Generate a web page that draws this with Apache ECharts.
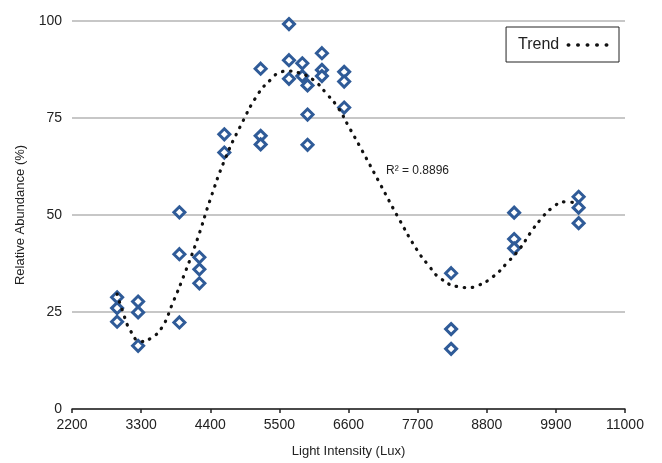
<!DOCTYPE html>
<html>
<head>
<meta charset="utf-8">
<script src="https://cdn.jsdelivr.net/npm/echarts@6/dist/echarts.min.js"></script>
<style>
  html, body { margin: 0; padding: 0; background: #fff; }
  #main { width: 662px; height: 463px; }
</style>
</head>
<body>
<div id="main"></div>
<script>
// measured samples: light intensity (Lux) and relative abundance (%)
var pointX = [2918, 2918, 2918, 3252, 3252, 3252, 3909, 3909, 3909, 4227, 4227, 4227,
  4624, 4624, 5202, 5202, 5202, 5653, 5653, 5653, 5865, 5865, 5948, 5948, 5948,
  6177, 6177, 6177, 6531, 6531, 6531, 8233, 8233, 8233, 9236, 9236, 9236,
  10262, 10262, 10262]
var pointY = [28.8, 26.0, 22.5, 27.7, 24.9, 16.3, 50.7, 39.9, 22.3, 39.1, 36.0, 32.4,
  70.8, 66.1, 87.7, 70.4, 68.2, 99.2, 89.9, 85.1, 89.1, 85.8, 83.4, 75.9, 68.1,
  91.7, 87.4, 85.8, 86.9, 84.4, 77.7, 35.0, 20.6, 15.5, 50.6, 43.8, 41.4,
  54.7, 51.9, 47.9]

// trend curve
var trendX = [2918, 3000, 3130, 3300, 3450, 3630, 3800, 4000, 4200, 4400, 4630, 4880,
  5170, 5370, 5500, 5650, 5800, 6040, 6260, 6440, 6600, 6810, 7100, 7400, 7690,
  7870, 8060, 8350, 8500, 8640, 8900, 9120, 9330, 9490, 9670, 9830, 10050, 10262]
var trendY = [29.6, 25.5, 20.2, 17.4, 18.2, 21.0, 27.2, 35.2, 44.0, 54.0, 64.2, 72.9,
  81.4, 85.0, 86.7, 87.1, 86.7, 84.8, 81.1, 77.5, 72.9, 66.8, 58.1, 49.1, 41.0,
  37.1, 33.7, 31.5, 31.3, 31.7, 34.1, 37.6, 41.4, 45.3, 49.1, 51.7, 53.4, 53.0]

var xTicks = [2200, 11000, 1100]
var yTicks = [0, 100, 25]
var rSquared = 'R² = 0.8896'

var font = '"Liberation Sans", Arial, sans-serif'

var points = pointX.map(function(x, i) { return [x, pointY[i]] })
var trend = trendX.map(function(x, i) { return [x, trendY[i]] })

var myChart = echarts.init(document.getElementById('main'))
var option = {
  animation: false,
  textStyle: { fontFamily: font },
  grid: {
    left: 72,
    right: 37,
    top: 21,
    bottom: 54
  },
  legend: {
    data: ['Trend'],
    right: 43,
    top: 27,
    align: 'right',
    itemWidth: 40,
    itemHeight: 14,
    borderColor: '#222',
    borderWidth: 1,
    borderRadius: 0,
    padding: [10, 9, 9, 12],
    itemStyle: { opacity: 0 },
    lineStyle: { color: '#111', width: 3.5, type: [0.5, 9], cap: 'round' },
    textStyle: { fontSize: 16, color: '#222', fontFamily: font, padding: [0, 4, 0, 0] }
  },
  xAxis: {
    type: 'value',
    min: xTicks[0],
    max: xTicks[1],
    interval: xTicks[2],
    name: 'Light Intensity (Lux)',
    nameLocation: 'middle',
    nameGap: 36,
    nameTextStyle: { fontSize: 13, color: '#222' },
    axisLine: { lineStyle: { color: '#222', width: 1.5 } },
    axisTick: { length: 4, lineStyle: { color: '#222', width: 1.5 } },
    axisLabel: { fontSize: 14, color: '#222', margin: 9, formatter: function(v) { return String(v) } },
    splitLine: { show: false }
  },
  yAxis: {
    type: 'value',
    min: yTicks[0],
    max: yTicks[1],
    interval: yTicks[2],
    name: 'Relative Abundance (%)',
    nameLocation: 'middle',
    nameGap: 45,
    nameTextStyle: { fontSize: 13, color: '#222' },
    axisLine: { show: false },
    axisTick: { show: false },
    axisLabel: { fontSize: 14, color: '#222', margin: 10 },
    splitLine: { lineStyle: { color: '#b5b5b5', width: 1.5 } }
  },
  graphic: [{
    type: 'text',
    left: 386,
    top: 165,
    style: { text: rSquared, fontSize: 12, fill: '#222', fontFamily: font }
  }],
  series: [{
    name: 'Trend',
    type: 'line',
    data: trend,
    smooth: 0.5,
    symbol: 'none',
    z: 3,
    lineStyle: { color: '#111', width: 3.2, type: [0.5, 7.5], cap: 'round' },
    itemStyle: { color: '#111' }
  }, {
    name: 'Samples',
    type: 'scatter',
    data: points,
    symbol: 'diamond',
    symbolSize: 11,
    z: 2,
    itemStyle: { color: '#fff', borderColor: '#2f5b98', borderWidth: 3, opacity: 1 }
  }]
}
myChart.setOption(option)
</script>
</body>
</html>
